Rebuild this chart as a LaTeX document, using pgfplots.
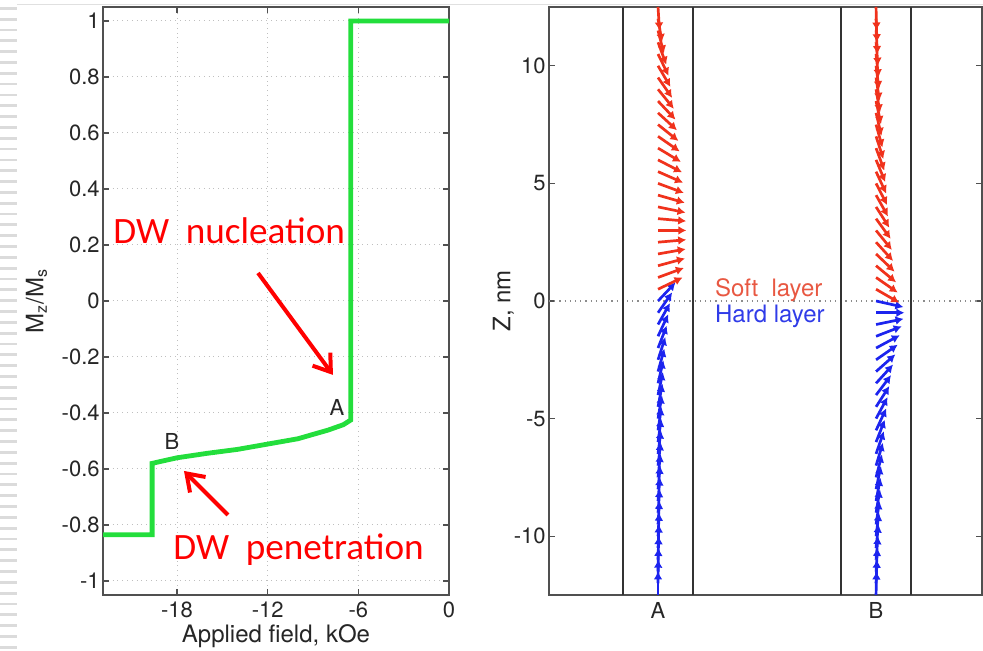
\documentclass[border=0pt]{standalone}
\usepackage{fontspec}
\setmainfont{TeX Gyre Heros}
\newfontfamily\calib{Carlito}
\usepackage{pgfplots}
\pgfplotsset{compat=1.18}
\usepackage{pgfplotstable}
\usetikzlibrary{arrows.meta}

\definecolor{curvegreen}{RGB}{35,222,60}
\definecolor{softred}{RGB}{240,50,28}
\definecolor{softtext}{RGB}{232,88,66}
\definecolor{hardblue}{RGB}{28,36,238}
\definecolor{hardtext}{RGB}{48,60,232}
\definecolor{axisgray}{RGB}{80,80,80}
\definecolor{annred}{RGB}{255,0,0}

% hysteresis branch: applied field (kOe) vs normalised Mz
\pgfplotstableread{
H      M
-22.9  -0.835
-19.65 -0.835
-19.65 -0.580
-19.0  -0.572
-18.0  -0.560
-16.0  -0.544
-14.0  -0.530
-12.0  -0.511
-10.0  -0.492
-8.0   -0.461
-7.0   -0.442
-6.5   -0.425
-6.5    1.000
0.0     1.000
}\loopdata

% magnetisation angle t (deg from +z) along the thickness z (nm)
\pgfplotstableread{
x z t
1 -12.5 0
1 -12.0 0.5
1 -11.5 1
1 -11.0 1.5
1 -10.5 2
1 -10.0 2.5
1 -9.5 3
1 -9.0 3.5
1 -8.5 4
1 -8.0 4.5
1 -7.5 5
1 -7.0 5.5
1 -6.5 6
1 -6.0 6.5
1 -5.5 7
1 -5.0 8
1 -4.5 9
1 -4.0 10
1 -3.5 11
1 -3.0 13
1 -2.5 15
1 -2.0 18
1 -1.5 21
1 -1.0 25
1 -0.5 30
1 0.0 38
}\hardA

\pgfplotstableread{
x z t
1 0.5 60
1 1.0 66
1 1.5 72
1 2.0 78
1 2.5 84
1 3.0 90
1 3.5 96
1 4.0 104
1 4.5 109
1 5.0 114
1 5.5 118
1 6.0 122
1 6.5 126
1 7.0 130
1 7.5 134
1 8.0 138
1 8.5 142
1 9.0 146
1 9.5 150
1 10.0 154
1 10.5 158
1 11.0 163
1 11.5 168
1 12.0 172
1 12.5 177
}\softA

\pgfplotstableread{
x z t
2 -12.5 1
2 -12.0 2
2 -11.5 3
2 -11.0 4
2 -10.5 5
2 -10.0 6
2 -9.5 7
2 -9.0 8
2 -8.5 9
2 -8.0 10
2 -7.5 12
2 -7.0 14
2 -6.5 16
2 -6.0 18
2 -5.5 21
2 -5.0 24
2 -4.5 28
2 -4.0 32
2 -3.5 37
2 -3.0 43
2 -2.5 50
2 -2.0 57
2 -1.5 65
2 -1.0 76
2 -0.5 90
2 0.0 105
}\hardB

\pgfplotstableread{
x z t
2 0.5 125
2 1.0 130
2 1.5 135
2 2.0 139
2 2.5 143
2 3.0 146
2 3.5 149
2 4.0 152
2 4.5 155
2 5.0 157
2 5.5 159
2 6.0 161
2 6.5 163
2 7.0 165
2 7.5 167
2 8.0 169
2 8.5 170
2 9.0 172
2 9.5 173
2 10.0 174
2 10.5 175
2 11.0 176
2 11.5 177
2 12.0 178
2 12.5 179
}\softB

\pgfplotsset{
  matlab/.style={
    scale only axis,
    axis line style={axisgray, line width=0.7pt},
    tick style={axisgray, line width=0.6pt},
    major tick length=3pt,
    tick label style={font=\fontsize{11}{13}\selectfont, text=black!85},
    label style={font=\fontsize{12}{14}\selectfont, text=black!85},
    /pgf/number format/assume math mode=true,
    yticklabel style={inner xsep=1.5pt},
  },
  spins/.style={
    -{Latex[length=4pt,width=4.4pt]}, line width=1.35pt,
    quiver={u={0.13*sin(\thisrow{t})}, v={cos(\thisrow{t})}},
  },
}

\begin{document}
\begin{tikzpicture}
\path[use as bounding box] (0,0) rectangle (491.5pt,325.5pt);

% slide edge decoration
\foreach \k in {0,...,59}{
  \fill[black!14] (0pt,{321.35pt-5.415pt*\k-0.7pt}) rectangle (8.5pt,{321.35pt-5.415pt*\k+0.7pt});
}
\draw[black!12, line width=0.4pt] (8.5pt,323.5pt) -- (491.5pt,323.5pt);

\begin{axis}[
  matlab,
  at={(51.5pt,28pt)}, anchor=south west,
  width=173pt, height=294pt,
  xmin=-22.9, xmax=0, ymin=-1.05, ymax=1.05,
  xtick={-18,-12,-6,0},
  ytick={-1,-0.8,-0.6,-0.4,-0.2,0,0.2,0.4,0.6,0.8,1},
  yticklabel style={/pgf/number format/fixed},
  grid=major, grid style={dotted, black!25, line width=0.5pt},
  xlabel={Applied field, kOe},
  xlabel style={at={(axis description cs:0.5,-0.0816)}, anchor=base},
  ylabel={M\textsubscript{z}/M\textsubscript{s}},
  ylabel style={at={(axis description cs:-0.16,0.5)}, anchor=south, inner sep=0pt},
]
\addplot[curvegreen, line width=2.4pt, line join=miter] table[x=H, y=M] {\loopdata};

\node[font=\fontsize{11}{13}\selectfont, text=black!85] at (axis cs:-7.41,-0.382) {A};
\node[font=\fontsize{11}{13}\selectfont, text=black!85] at (axis cs:-18.33,-0.5) {B};

\node[anchor=base west, inner sep=0pt, text=annred, font=\calib\fontsize{18.6}{22}\selectfont]
  at (axis cs:-22.24,0.207) {DW\hspace{0.45em}nucleation};
\node[anchor=base west, inner sep=0pt, text=annred, font=\calib\fontsize{18.6}{22}\selectfont]
  at (axis cs:-18.27,-0.925) {DW\hspace{0.45em}penetration};

\draw[annred, line width=2pt, -{Straight Barb[length=8pt,width=11pt]}]
  (axis cs:-12.64,0.1) -- (axis cs:-7.68,-0.264);
\draw[annred, line width=2pt, -{Straight Barb[length=8pt,width=11pt]}]
  (axis cs:-14.63,-0.764) -- (axis cs:-17.54,-0.607);
\end{axis}

\begin{axis}[
  matlab,
  at={(274.5pt,28pt)}, anchor=south west,
  width=216.5pt, height=294pt,
  xmin=0.5, xmax=2.486, ymin=-12.5, ymax=12.5,
  xtick={1,2}, xticklabels={A,B},
  xtick style={draw=none},
  ytick={-10,-5,0,5,10},
  ylabel={Z, nm},
  ylabel style={at={(axis description cs:-0.08,0.5)}, anchor=south, inner sep=0pt},
]
\addplot[black!45, dotted, line width=0.6pt] coordinates {(0.5,0) (2.5,0)};
\addplot[black!80, line width=1pt] coordinates {(0.84,-12.5) (0.84,12.5)};
\addplot[black!80, line width=1pt] coordinates {(1.16,-12.5) (1.16,12.5)};
\addplot[black!80, line width=1pt] coordinates {(1.84,-12.5) (1.84,12.5)};
\addplot[black!80, line width=1pt] coordinates {(2.16,-12.5) (2.16,12.5)};

\addplot[hardblue, spins] table[x=x, y=z] {\hardA};
\addplot[softred, spins] table[x=x, y=z] {\softA};
\addplot[hardblue, spins] table[x=x, y=z] {\hardB};
\addplot[softred, spins] table[x=x, y=z] {\softB};

\node[anchor=base west, inner sep=0pt, text=softtext, font=\fontsize{12}{14}\selectfont]
  at (axis cs:1.26,0.21) {Soft\hspace{0.55em}layer};
\node[anchor=base west, inner sep=0pt, text=hardtext, font=\fontsize{12}{14}\selectfont]
  at (axis cs:1.26,-0.93) {Hard layer};
\end{axis}
\end{tikzpicture}
\end{document}
